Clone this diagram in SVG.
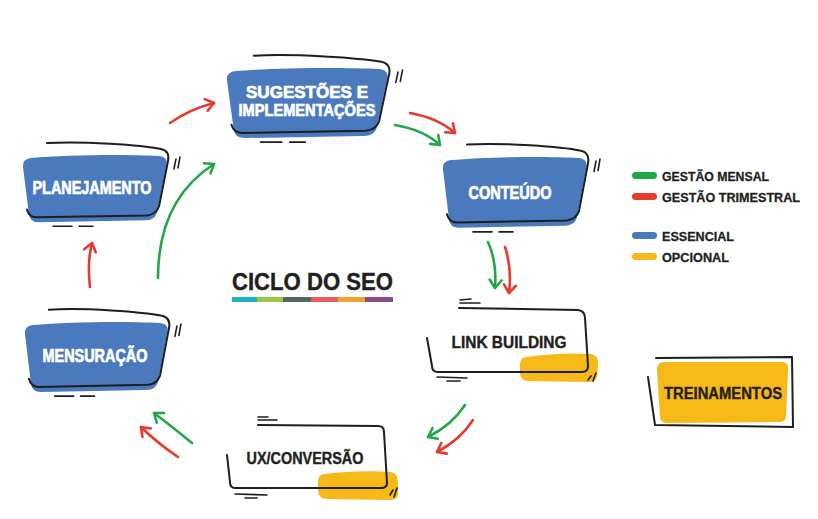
<svg xmlns="http://www.w3.org/2000/svg" width="818" height="519" viewBox="0 0 818 519">
  <defs>
    <style>
      .blue { fill: #4b79bd; }
      .yellow { fill: #f7b918; }
      .ink { fill: none; stroke: #1e1e1e; stroke-width: 2; stroke-linecap: round; stroke-linejoin: round; vector-effect: non-scaling-stroke; }
      .thin { fill: none; stroke: #1e1e1e; stroke-width: 1.6; stroke-linecap: round; vector-effect: non-scaling-stroke; }
      .wt { fill: #ffffff; stroke: #ffffff; stroke-width: 0.7; font-family: "Liberation Sans", Arial, sans-serif; font-weight: bold; text-anchor: middle; }
      .dt { fill: #231f20; stroke: #231f20; stroke-width: 0.4; font-family: "Liberation Sans", Arial, sans-serif; font-weight: bold; text-anchor: middle; }
      .lg { fill: #231f20; stroke: #231f20; stroke-width: 0.3; font-family: "Liberation Sans", Arial, sans-serif; font-weight: bold; font-size: 13px; }
      .ag { fill: none; stroke: #23a64a; stroke-width: 2.6; stroke-linecap: round; marker-end: url(#hg); }
      .ar { fill: none; stroke: #e8392d; stroke-width: 2.6; stroke-linecap: round; marker-end: url(#hr); }
    </style>
    <marker id="hg" markerUnits="userSpaceOnUse" markerWidth="20" markerHeight="20" refX="0" refY="0" viewBox="-12 -10 16 20" orient="auto">
      <path d="M -8,-6 L 0,0 L -8,6" fill="none" stroke="#23a64a" stroke-width="2.6" stroke-linecap="round" stroke-linejoin="round"/>
    </marker>
    <marker id="hr" markerUnits="userSpaceOnUse" markerWidth="20" markerHeight="20" refX="0" refY="0" viewBox="-12 -10 16 20" orient="auto">
      <path d="M -8,-6 L 0,0 L -8,6" fill="none" stroke="#e8392d" stroke-width="2.6" stroke-linecap="round" stroke-linejoin="round"/>
    </marker>
    <g id="bluebox">
      <path class="blue" d="M 8,3 C 40,0 100,-1 136,1 Q 146,2 143,12 L 134,58 Q 132,66 122,66 L 16,68 Q 7,68 6,60 L 0,12 Q -1,4 8,3 Z"/>
      <path class="ink" d="M 24,-12 C 60,-14 118,-10 138,-6 Q 147,-4 145,6 L 136,52 Q 133,60 124,61 L 14,63 Q 6,63 4,55"/>
      <path class="thin" d="M 30,72 L 49,72 M 56,72 L 70,72"/>
      <path class="thin" d="M 153,4 L 151,14 M 157,2 L 155,13"/>
    </g>
  </defs>

  <rect width="818" height="519" fill="#ffffff"/>

  <g id="connectors">
    <path class="ar" d="M 170,123 Q 190,109 214,103"/>
    <path class="ag" d="M 158,278 Q 158,200 214,164"/>
    <path class="ar" d="M 90,287 Q 87,262 92,243"/>
    <path class="ar" d="M 410,113 Q 438,118 455,133"/>
    <path class="ag" d="M 395,125 Q 424,130 440,145"/>
    <path class="ag" d="M 488,242 Q 497,262 495,288"/>
    <path class="ar" d="M 505,247 Q 512,268 509,293"/>
    <path class="ag" d="M 465,405 Q 452,425 428,437"/>
    <path class="ar" d="M 473,420 Q 460,440 437,452"/>
    <path class="ag" d="M 192,443 Q 170,425 154,413"/>
    <path class="ar" d="M 178,457 Q 156,442 141,427"/>
  </g>

  <g id="node-sugestoes">
    <use href="#bluebox" transform="translate(227,68) scale(1.118,1.03)"/>
    <text class="wt" x="307" y="97.5" font-size="16.5" textLength="122" lengthAdjust="spacingAndGlyphs">SUGESTÕES E</text>
    <text class="wt" x="307" y="116" font-size="16.5" textLength="137" lengthAdjust="spacingAndGlyphs">IMPLEMENTAÇÕES</text>
  </g>

  <g id="node-planejamento">
    <use href="#bluebox" transform="translate(23,155) scale(1,0.99)"/>
    <text class="wt" x="92" y="193.5" font-size="18" textLength="119" lengthAdjust="spacingAndGlyphs">PLANEJAMENTO</text>
  </g>

  <g id="node-conteudo">
    <use href="#bluebox" transform="translate(443,157) scale(1,1.04)"/>
    <text class="wt" x="510" y="198.5" font-size="18" textLength="83" lengthAdjust="spacingAndGlyphs">CONTEÚDO</text>
  </g>

  <g id="node-mensuracao">
    <use href="#bluebox" transform="translate(25,322) scale(0.993,1.03)"/>
    <text class="wt" x="95" y="361.5" font-size="18" textLength="105" lengthAdjust="spacingAndGlyphs">MENSURAÇÃO</text>
  </g>

  <g id="node-link-building">
    <path class="yellow" d="M 526,357 Q 560,352 591,354 Q 599,355 598,366 L 597,377 Q 596,382 588,382 L 527,381 Q 520,380 520,372 L 520,364 Q 520,358 526,357 Z"/>
    <path class="ink" d="M 459,308 L 578,310 Q 585,311 585,318 L 588,366 Q 588,372 582,372 L 438,372 Q 432,372 432,366 L 427,338"/>
    <path class="thin" d="M 460,300 L 471,299 M 460,303 L 480,303 M 437,377 L 467,378 M 447,381 L 460,381 M 591,376 L 588,380 M 596,373 L 593,381"/>
    <text class="dt" x="509" y="348" font-size="17" textLength="115" lengthAdjust="spacingAndGlyphs">LINK BUILDING</text>
  </g>

  <g id="node-ux-conversao">
    <path class="yellow" d="M 324,474 Q 360,470 391,472 Q 398,473 398,484 L 398,495 Q 397,500 389,500 L 325,499 Q 318,498 318,490 L 318,481 Q 318,475 324,474 Z"/>
    <path class="ink" d="M 258,425 L 378,426 Q 384,426 384,432 L 387,483 Q 387,488 381,488 L 235,488 Q 230,488 230,482 L 227,455"/>
    <path class="thin" d="M 258,417 L 268,417 M 258,420 L 277,420 M 235,494 L 267,495 M 245,498 L 257,498 M 393,490 L 390,495 M 397,488 L 394,497"/>
    <text class="dt" x="305" y="464" font-size="16" textLength="117" lengthAdjust="spacingAndGlyphs">UX/CONVERSÃO</text>
  </g>

  <g id="node-treinamentos">
    <path class="yellow" d="M 664,362 L 782,362 Q 789,362 788,370 L 786,416 Q 786,422 779,422 L 667,423 Q 660,423 660,416 L 657,370 Q 657,362 664,362 Z"/>
    <path class="ink" d="M 656,358 L 792,357 L 793,427 L 655,425 L 648,377"/>
    <text class="dt" x="723" y="399" font-size="16" textLength="118" lengthAdjust="spacingAndGlyphs">TREINAMENTOS</text>
  </g>

  <g id="title">
    <text x="232" y="290" fill="#231f20" stroke="#231f20" stroke-width="0.4" font-family="'Liberation Sans', Arial, sans-serif" font-weight="bold" font-size="23.5" textLength="161" lengthAdjust="spacingAndGlyphs">CICLO DO SEO</text>
    <rect x="232" y="297" width="25.5" height="5" fill="#1cb5c1"/>
    <rect x="257" y="297" width="26.5" height="5" fill="#9dc540"/>
    <rect x="283" y="297" width="28.5" height="5" fill="#546567"/>
    <rect x="311" y="297" width="27.5" height="5" fill="#ee5b5a"/>
    <rect x="338" y="297" width="27.5" height="5" fill="#f3a12b"/>
    <rect x="365" y="297" width="28" height="5" fill="#8d4a8c"/>
  </g>

  <g id="legend">
    <rect x="632" y="172" width="25" height="7" rx="3.5" fill="#23a64a"/>
    <text class="lg" x="662" y="180.5" textLength="107" lengthAdjust="spacingAndGlyphs">GESTÃO MENSAL</text>
    <rect x="632" y="193" width="25" height="7" rx="3.5" fill="#e8392d"/>
    <text class="lg" x="662" y="201.5" textLength="138" lengthAdjust="spacingAndGlyphs">GESTÃO TRIMESTRAL</text>
    <rect x="632" y="232" width="25" height="7" rx="3.5" fill="#4b79bd"/>
    <text class="lg" x="662" y="240.5" textLength="72" lengthAdjust="spacingAndGlyphs">ESSENCIAL</text>
    <rect x="632" y="253" width="25" height="7" rx="3.5" fill="#f7b918"/>
    <text class="lg" x="662" y="261.5" textLength="67" lengthAdjust="spacingAndGlyphs">OPCIONAL</text>
  </g>
</svg>
